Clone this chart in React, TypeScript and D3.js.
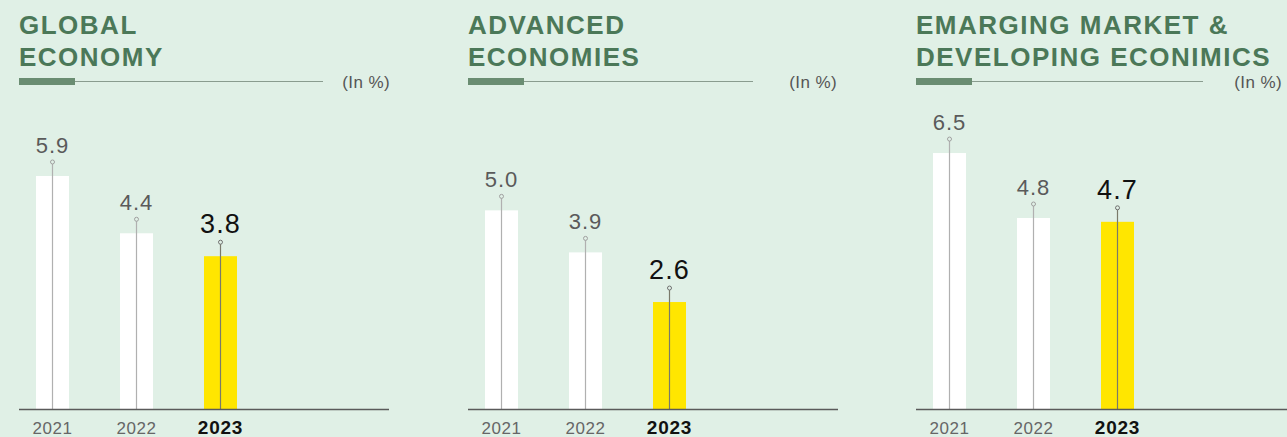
import React from "react";
import * as d3 from "d3";

const years = ["2021", "2022", "2023"];
const titleGlobal = ["GLOBAL", "ECONOMY"];
const titleAdvanced = ["ADVANCED", "ECONOMIES"];
const titleEmerging = ["EMARGING MARKET &", "DEVELOPING ECONIMICS"];
const globalValues = [5.9, 4.4, 3.8];
const advancedValues = [5.0, 3.9, 2.6];
const emergingValues = [6.5, 4.8, 4.7];
const unitLabel = "(In %)";

const W = 1287;
const H = 437;
const BG = "#e0f0e6";
const GREEN = "#4b7858";

const panels = [
  { title: titleGlobal, values: globalValues, x0: 0, lineEnd: 323, axisEnd: 389, unitEnd: 390 },
  { title: titleAdvanced, values: advancedValues, x0: 449, lineEnd: 753, axisEnd: 838, unitEnd: 837 },
  { title: titleEmerging, values: emergingValues, x0: 897, lineEnd: 1203, axisEnd: 1287, unitEnd: 1282 },
];

const baseY = 409;
const y = d3.scaleLinear().domain([-0.2, 10]).range([baseY, baseY - 10.2 * 38.2]);
const fmt = d3.format(".1f");
const FONT = "'Liberation Sans', Arial, Helvetica, sans-serif";

function Panel({ p }: { p: (typeof panels)[number] }) {
  const x = d3
    .scaleBand<string>()
    .domain(years)
    .range([p.x0 + 36, p.x0 + 237])
    .paddingInner(51 / 84)
    .paddingOuter(0);
  const bw = x.bandwidth();
  const last = years.length - 1;
  return (
    <g>
      {p.title.map((t, i) => (
        <text
          key={t}
          x={p.x0 + 19}
          y={34 + i * 32}
          fontFamily={FONT}
          fontWeight="bold"
          fontSize={26}
          letterSpacing={1.5}
          fill={GREEN}
        >
          {t}
        </text>
      ))}
      <line x1={p.x0 + 19} x2={p.lineEnd} y1={81.5} y2={81.5} stroke="#8a9c8f" strokeWidth={1.2} />
      <rect x={p.x0 + 19} y={78} width={56} height={7} fill="#6a8d72" />
      <text
        x={p.unitEnd}
        y={88}
        textAnchor="end"
        fontFamily={FONT}
        fontSize={17}
        letterSpacing={0.4}
        fill="#555"
      >
        {unitLabel}
      </text>
      {p.values.map((v, i) => {
        const yr = years[i];
        const cx = (x(yr) as number) + bw / 2;
        const top = y(v);
        const hl = i === last;
        const pinTop = top - 14;
        return (
          <g key={yr}>
            <rect x={x(yr)} y={top} width={bw} height={baseY - top} fill={hl ? "#ffe600" : "#ffffff"} />
            <line x1={cx} x2={cx} y1={pinTop + 2} y2={baseY} stroke={hl ? "#7a7a6a" : "#b0b0b0"} strokeWidth={1.2} />
            <circle cx={cx} cy={pinTop} r={2} fill="none" stroke={hl ? "#707070" : "#a0a0a0"} strokeWidth={1} />
            <text
              x={cx}
              y={pinTop - 9}
              textAnchor="middle"
              fontFamily={FONT}
              fontSize={hl ? 27 : 22}
              letterSpacing={hl ? 1.2 : 1}
              fill={hl ? "#111" : "#5a5a5a"}
            >
              {fmt(v)}
            </text>
            <text
              x={cx}
              y={434}
              textAnchor="middle"
              fontFamily={FONT}
              fontSize={hl ? 19 : 17}
              fontWeight={hl ? "bold" : "normal"}
              letterSpacing={hl ? 0.8 : 0.5}
              fill={hl ? "#111" : "#666"}
            >
              {yr}
            </text>
          </g>
        );
      })}
      <line x1={p.x0 + 19} x2={p.axisEnd} y1={baseY + 0.5} y2={baseY + 0.5} stroke="#5a5a5a" strokeWidth={1.3} />
    </g>
  );
}

export default function App() {
  return (
    <svg
      width={W}
      height={H}
      style={{ position: "fixed", left: 0, top: 0, display: "block" }}
    >
      <rect width={W} height={H} fill={BG} />
      {panels.map((p, i) => (
        <Panel key={i} p={p} />
      ))}
    </svg>
  );
}
